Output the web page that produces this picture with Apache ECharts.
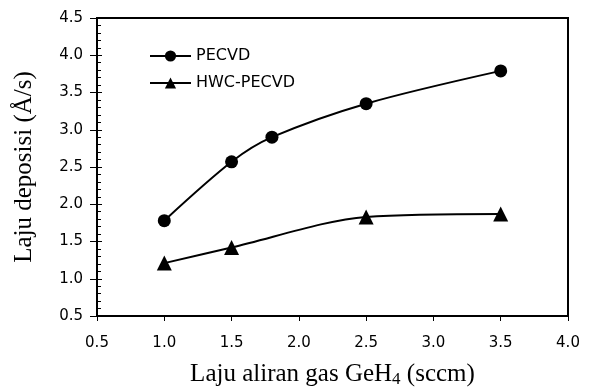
<!DOCTYPE html>
<html>
<head>
    <meta charset="utf-8">
    <title>Laju deposisi</title>
    <script src="https://cdn.jsdelivr.net/npm/echarts@6/dist/echarts.min.js"></script>
    <style>
        html, body { margin: 0; padding: 0; background: #fff; }
        #chart { width: 590px; height: 388px; }
    </style>
</head>
<body>
<div id="chart"></div>
<script type="text/javascript">
    // data
    var flowGeH4 = [1.0, 1.5, 1.8, 2.5, 3.5];
    var pecvdRate = [1.78, 2.57, 2.90, 3.35, 3.79];
    var hwcFlow = [1.0, 1.5, 2.5, 3.5];
    var hwcRate = [1.21, 1.42, 1.83, 1.87];
    var seriesNames = ['PECVD', 'HWC-PECVD'];

    function pairs(xs, ys) {
        return xs.map(function (x, i) { return [x, ys[i]]; });
    }

    var myChart = echarts.init(document.getElementById('chart'));

    var tickFont = { fontFamily: 'DejaVu Sans', fontSize: 15, color: '#000' };

    var option = {
        animation: false,
        grid: {
            left: 97, right: 22, top: 18, bottom: 72,
            outerBoundsMode: 'none',
            show: true, borderColor: '#000', borderWidth: 2
        },
        legend: {
            left: 149, top: 48,
            padding: 0,
            orient: 'vertical',
            itemWidth: 41, itemHeight: 14, itemGap: 11,
            textStyle: { fontFamily: 'DejaVu Sans', fontSize: 16, color: '#000' },
            data: seriesNames
        },
        xAxis: {
            type: 'value',
            min: 0.5, max: 4.0, interval: 0.5,
            name: 'Laju aliran gas GeH{sub|4} (sccm)',
            nameLocation: 'middle',
            nameGap: 44,
            nameTextStyle: {
                fontFamily: 'Liberation Serif', fontSize: 25, color: '#000',
                rich: {
                    sub: { fontFamily: 'Liberation Serif', fontSize: 17, color: '#000', padding: [11, 0, 0, 0] }
                }
            },
            axisLine: { lineStyle: { color: '#000', width: 2 } },
            axisTick: { length: 5, lineStyle: { color: '#000', width: 1 } },
            axisLabel: Object.assign({ margin: 20, formatter: function (v) { return v.toFixed(1); } }, tickFont),
            splitLine: { show: false }
        },
        yAxis: [{
            type: 'value',
            min: 0.5, max: 4.5, interval: 0.5,
            name: 'Laju deposisi (Å/s)',
            nameLocation: 'middle',
            nameGap: 60,
            nameTextStyle: { fontFamily: 'Liberation Serif', fontSize: 25, color: '#000' },
            axisLine: { lineStyle: { color: '#000', width: 2 } },
            axisTick: { inside: true, length: 5, lineStyle: { color: '#000', width: 1 } },
            minorTick: { show: true, splitNumber: 5, length: 4, lineStyle: { color: '#000', width: 1 } },
            axisLabel: { show: false },
            splitLine: { show: false }
        }, {
            type: 'value',
            position: 'left',
            min: 0.5, max: 4.5, interval: 0.5,
            axisLine: { show: false },
            axisTick: { length: 7, lineStyle: { color: '#000', width: 1 } },
            axisLabel: Object.assign({ margin: 14, formatter: function (v) { return v.toFixed(1); } }, tickFont),
            splitLine: { show: false }
        }],
        series: [{
            name: seriesNames[0],
            type: 'line',
            smooth: 0.3,
            symbol: 'circle',
            symbolSize: 13,
            itemStyle: { color: '#000' },
            lineStyle: { color: '#000', width: 2 },
            data: pairs(flowGeH4, pecvdRate)
        }, {
            name: seriesNames[1],
            type: 'line',
            smooth: 0.3,
            symbol: 'triangle',
            symbolSize: 15,
            itemStyle: { color: '#000' },
            lineStyle: { color: '#000', width: 2 },
            data: pairs(hwcFlow, hwcRate)
        }]
    };

    myChart.setOption(option);
</script>
</body>
</html>
